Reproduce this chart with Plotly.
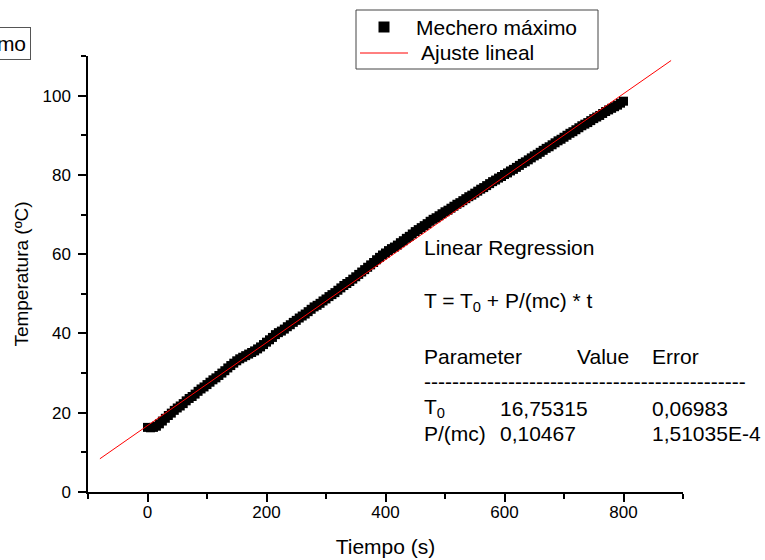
import plotly.graph_objects as go

# ---- data ----
tiempo = list(range(0, 805, 5))
temperatura = [
    16.3, 16.2, 16.3, 16.6, 17.2, 17.9, 18.6, 19.3, 19.9, 20.6,
    21.2, 21.7, 22.3, 23.0, 23.6, 24.1, 24.7, 25.4, 26.0, 26.5,
    27.1, 27.7, 28.3, 28.8, 29.4, 30.0, 30.6, 31.3, 31.9, 32.5,
    33.1, 33.6, 34.0, 34.4, 34.8, 35.2, 35.6, 36.1, 36.6, 37.2,
    37.8, 38.4, 39.0, 39.7, 40.2, 40.6, 41.1, 41.7, 42.2, 42.8,
    43.3, 43.9, 44.4, 44.9, 45.5, 46.1, 46.7, 47.1, 47.6, 48.2,
    48.7, 49.3, 49.8, 50.3, 50.9, 51.5, 52.1, 52.6, 53.1, 53.7,
    54.3, 54.9, 55.5, 56.1, 56.7, 57.3, 57.9, 58.6, 59.2, 59.8,
    60.3, 60.9, 61.4, 61.8, 62.3, 62.9, 63.4, 64.0, 64.5, 65.1,
    65.7, 66.2, 66.7, 67.2, 67.7, 68.3, 68.8, 69.2, 69.7, 70.2,
    70.7, 71.1, 71.6, 72.1, 72.6, 73.0, 73.5, 74.0, 74.5, 74.9,
    75.4, 75.9, 76.4, 76.8, 77.3, 77.8, 78.3, 78.7, 79.2, 79.6,
    80.1, 80.5, 81.0, 81.4, 81.9, 82.4, 82.9, 83.3, 83.8, 84.3,
    84.8, 85.2, 85.7, 86.2, 86.7, 87.1, 87.6, 88.1, 88.6, 89.0,
    89.5, 90.0, 90.5, 90.9, 91.4, 91.9, 92.4, 92.8, 93.2, 93.7,
    94.2, 94.6, 95.0, 95.5, 96.0, 96.4, 96.8, 97.2, 97.6, 98.1,
    98.6]

ajuste_t = [-80, 880]
ajuste_T = [8.38, 108.86]

x_ticks = [0, 200, 400, 600, 800]
y_ticks = [0, 20, 40, 60, 80, 100]

serie_nombre = "Mechero máximo"
ajuste_nombre = "Ajuste lineal"

FONT = "Arial, Liberation Sans, sans-serif"
W, H = 765, 560
L, R, T, B = 88, 82, 56, 68
PW, PH = W - L - R, H - T - B


def px(x):
    return (x - L) / PW


def py(y):
    return (H - B - y) / PH


fig = go.Figure()
fig.add_trace(go.Scatter(
    x=tiempo, y=temperatura, mode="markers",
    marker=dict(symbol="square", size=9, color="black", line=dict(width=0)),
    name=serie_nombre, showlegend=False))
fig.add_trace(go.Scatter(
    x=ajuste_t, y=ajuste_T, mode="lines",
    line=dict(color="red", width=1),
    name=ajuste_nombre, showlegend=False))

axis_common = dict(
    showline=True, linecolor="black", linewidth=1.5, mirror=False,
    ticks="outside", ticklen=8, tickwidth=1.5, tickcolor="black",
    showgrid=False, zeroline=False, automargin=False,
    tickfont=dict(family=FONT, size=17, color="black"),
)

fig.update_xaxes(
    range=[-100, 900], tickvals=x_ticks, ticklabelstandoff=-4,
    minor=dict(dtick=100, tick0=0, ticklen=5, tickwidth=1.5, tickcolor="black", ticks="outside", showgrid=False),
    title=dict(text="Tiempo (s)", font=dict(family=FONT, size=21, color="black"), standoff=18),
    **axis_common)
fig.update_yaxes(
    range=[0, 110], tickvals=y_ticks, ticklabelstandoff=4,
    minor=dict(dtick=10, tick0=0, ticklen=5, tickwidth=1.5, tickcolor="black", ticks="outside", showgrid=False),
    title=dict(text="Temperatura (ºC)", font=dict(family=FONT, size=19, color="black"), standoff=9),
    **axis_common)

ann = []
shapes = []
sfont = dict(family=FONT, size=21, color="black")

# cut-off label box at the top-left corner
ann.append(dict(text=serie_nombre, x=px(31), y=py(43), xref="paper", yref="paper",
                xanchor="right", yanchor="middle", showarrow=False, font=sfont,
                bordercolor="#555555", borderwidth=1, borderpad=4, bgcolor="white"))


def txt(s, x, y):
    ann.append(dict(text=s, x=px(x), y=py(y), xref="paper", yref="paper",
                    xanchor="left", yanchor="middle", showarrow=False, font=sfont))


# legend (drawn by hand to match the reference box)
shapes.append(dict(type="rect", xref="paper", yref="paper",
                   x0=px(356), x1=px(598), y0=py(10), y1=py(69),
                   line=dict(color="#444444", width=1), fillcolor="white", layer="above"))
shapes.append(dict(type="rect", xref="paper", yref="paper",
                   x0=px(378.5), x1=px(389.5), y0=py(21.5), y1=py(32.5),
                   line=dict(width=0), fillcolor="black", layer="above"))
shapes.append(dict(type="line", xref="paper", yref="paper",
                   x0=px(360), x1=px(408), y0=py(53), y1=py(53),
                   line=dict(color="red", width=1), layer="above"))
txt(serie_nombre, 414, 27)
txt(ajuste_nombre, 419, 53)

# regression results text
txt("Linear Regression", 422, 247)
txt("T = T<sub>0</sub> + P/(mc) * t", 422, 302)
txt("Parameter", 422, 356)
txt("Value", 575, 356)
txt("Error", 650, 356)
txt("-" * 46, 422, 381)
txt("T<sub>0</sub>", 422, 408)
txt("16,75315", 498, 408)
txt("0,06983", 650, 408)
txt("P/(mc)", 422, 433)
txt("0,10467", 498, 433)
txt("1,51035E-4", 650, 433)

fig.update_layout(
    width=W, height=H,
    margin=dict(l=L, r=R, t=T, b=B, pad=0, autoexpand=False),
    paper_bgcolor="white", plot_bgcolor="white",
    font=dict(family=FONT, color="black"),
    showlegend=False,
    annotations=ann, shapes=shapes,
)

fig.write_html("out.html")
